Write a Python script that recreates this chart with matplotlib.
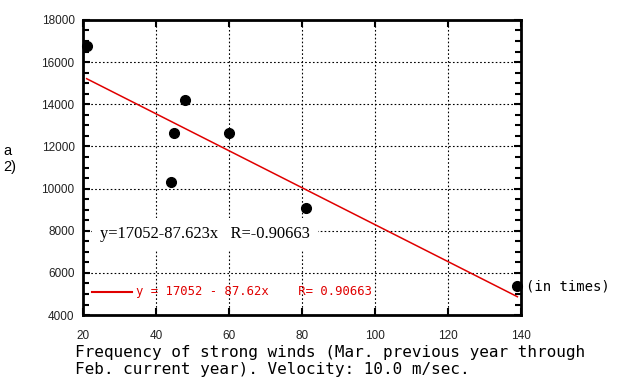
import numpy as np
import matplotlib
matplotlib.use('Agg')
import matplotlib.pyplot as plt
from matplotlib.ticker import MultipleLocator

# Data
freq = [21, 44, 45, 48, 60, 81, 139]
area = [16780, 10310, 12640, 14200, 12640, 9080, 5380]
intercept = 17052
slope = -87.623
x_ticks = [20, 40, 60, 80, 100, 120, 140]
y_ticks = [4000, 6000, 8000, 10000, 12000, 14000, 16000, 18000]

fig = plt.figure(figsize=(6.24, 3.9), dpi=100)
ax = fig.add_axes([0.133, 0.192, 0.702, 0.757])

fit_x = np.array([min(freq), max(freq)])
fit_y = intercept + slope * fit_x
ax.plot(fit_x, fit_y, color='#e00000', linewidth=1.1, zorder=3)
ax.plot(freq, area, 'o', color='black', markersize=7, zorder=4, clip_on=False)

ax.set_xlim(20, 140)
ax.set_ylim(4000, 18000)
ax.set_xticks(x_ticks)
ax.set_yticks(y_ticks)
ax.yaxis.set_minor_locator(MultipleLocator(500))
ax.grid(True, which='major', color='black', linestyle=(0, (1.5, 2)), linewidth=0.8)
ax.tick_params(which='both', direction='in', top=True, right=True, labelsize=8.5,
               labelcolor='#222222', labelfontfamily='Liberation Sans')
ax.tick_params(which='major', length=5, width=1.5, pad=6)
ax.tick_params(axis='x', which='major', pad=11)
ax.tick_params(which='minor', length=4, width=1.5)
for s in ax.spines.values():
    s.set_linewidth(2)

ax.text(24.6, 7850, 'y=17052-87.623x   R=-0.90663', family='Liberation Serif',
        fontsize=11.9, va='center', ha='left', zorder=5,
        bbox=dict(facecolor='white', edgecolor='none', pad=6))

ax.plot([22.5, 33.5], [5100, 5100], color='#e00000', linewidth=1.5)
ax.text(34.5, 5100, 'y = 17052 - 87.62x    R= 0.90663', color='#e00000',
        family='DejaVu Sans Mono', fontsize=8.8, va='center', ha='left')

fig.text(526 / 624, 1 - 286 / 390, '(in times)', family='DejaVu Sans Mono',
         fontsize=10, va='center', ha='left')

# left axis title is cut by the image edge in the original; only these parts show
fig.text(12 / 624, 1 - 151 / 390, 'a', family='Liberation Sans', fontsize=10.5,
         va='center', ha='right')
fig.text(16 / 624, 1 - 167 / 390, '2)', family='Liberation Sans', fontsize=10.5,
         va='center', ha='right')

fig.text(75 / 624, 1 - 361 / 390,
         'Frequency of strong winds (Mar. previous year through\n'
         'Feb. current year). Velocity: 10.0 m/sec.',
         family='DejaVu Sans Mono', fontsize=11.5, va='center', ha='left',
         linespacing=1.1)

fig.savefig('out.png', dpi=100)
